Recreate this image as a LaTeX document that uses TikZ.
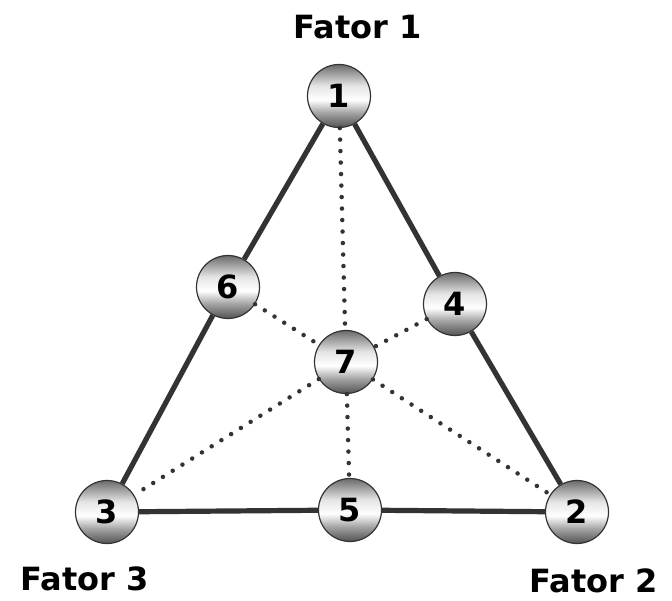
\documentclass[tikz,border=0pt]{standalone}
\usepackage{fontspec}
\setmainfont{DejaVu Sans}
\pgfdeclareverticalshading{sph}{100bp}{color(0bp)=(black!68); color(25bp)=(black!68); color(37bp)=(black!35); color(47bp)=(white); color(58bp)=(black!10); color(75bp)=(black!58); color(100bp)=(black!58)}
\definecolor{ln}{HTML}{333333}
\begin{document}
\begin{tikzpicture}[x=1pt,y=-1pt,
  bal/.style={circle, minimum size=63pt, inner sep=0pt, draw=black!80, line width=1.2pt, shade, shading=sph, font=\bfseries\fontsize{32}{32}\selectfont},
  lbl/.style={inner sep=0pt, font=\bfseries\fontsize{32}{32}\selectfont},
  solidln/.style={draw=ln, line width=5.2pt},
  dotln/.style={draw=ln, line width=4.5pt, line cap=round, dash pattern=on 0pt off 11.5pt}]
\useasboundingbox[fill=white] (0,0) rectangle (672,601);
\node[bal] (n1) at (339,96) {1};
\node[bal] (n6) at (228,287) {6};
\node[bal] (n4) at (455,304) {4};
\node[bal] (n7) at (346,362) {7};
\node[bal] (n3) at (107,512) {3};
\node[bal] (n5) at (350,510) {5};
\node[bal] (n2) at (577,512) {2};
\node[lbl] (f1) at (357.5,27) {Fator 1};
\node[lbl] (f3) at (85,579) {Fator 3};
\node[lbl] (f2) at (594,581) {Fator 2};
\draw[dotln] (n1) -- (n7);
\draw[dotln] (n7) -- (n5);
\draw[dotln] (n6) -- (n7);
\draw[dotln] (n7) -- (n2);
\draw[dotln] (n4) -- (n7);
\draw[dotln] (n7) -- (n3);
\draw[solidln] (n1) -- (n6);
\draw[solidln] (n6) -- (n3);
\draw[solidln] (n1) -- (n4);
\draw[solidln] (n4) -- (n2);
\draw[solidln] (n3) -- (n5);
\draw[solidln] (n5) -- (n2);
\end{tikzpicture}
\end{document}
